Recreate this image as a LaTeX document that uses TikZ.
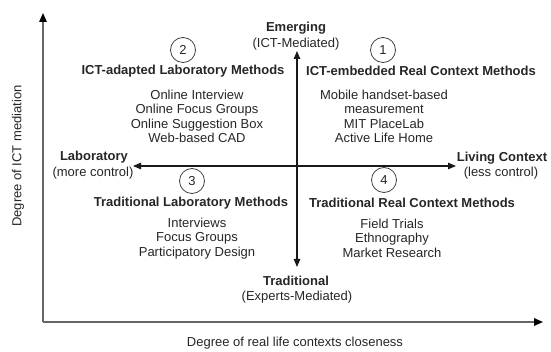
\documentclass[tikz,border=0pt]{standalone}
\usepackage{fontspec}
\setmainfont{Liberation Sans}
\usetikzlibrary{arrows.meta}
\begin{document}
\begin{tikzpicture}[x=1pt,y=-1pt,
  every node/.style={inner sep=0pt, text=black!85, font=\fontsize{13}{14.5}\selectfont},
  head/.style={font=\fontsize{13}{14.5}\selectfont\bfseries},
  items/.style={align=center},
  numcircle/.style={draw=black!75, line width=0.8pt, circle, minimum size=25pt},
  axis/.style={draw=black!60, line width=1.5pt, -{Triangle[length=9pt,width=7.5pt,color=black]}},
  cross/.style={draw=black!90, line width=1.1pt, {Triangle[length=8pt,width=6.5pt]}-{Triangle[length=8pt,width=6.5pt]}}]
\useasboundingbox (0,0) rectangle (551,352);

% outer axes
\coordinate (origin) at (43,322);
\coordinate (ytop) at (43,13);
\coordinate (xend) at (543,322);
\draw[axis] (origin) -- (ytop);
\draw[axis] (origin) -- (xend);
\node[rotate=90] (ylabel) at (18,156) {Degree of ICT mediation};
\node (xlabel) at (295,343) {Degree of real life contexts closeness};

% central cross
\node[head] (emerging) at (296,28) {Emerging};
\node (emergingsub) at (296,44) {(ICT-Mediated)};
\node[head] (traditional) at (296,281) {Traditional};
\node (traditionalsub) at (297,297) {(Experts-Mediated)};
\node[head] (lab) at (94,157) {Laboratory};
\node (labsub) at (93,173) {(more control)};
\node[head] (living) at (502,158) {Living Context};
\node (livingsub) at (501,173) {(less control)};
\coordinate (vtop) at (297,51);
\coordinate (vbot) at (297,267);
\coordinate (hleft) at (133,166);
\coordinate (hright) at (456,166);
\draw[cross] (vtop) -- (vbot);
\draw[cross] (hleft) -- (hright);

% quadrant 2
\node[numcircle] (c2) at (183,50) {2};
\node[head] (q2title) at (183,71) {ICT-adapted Laboratory Methods};
\node[items] (q2items) at (197,116.5) {Online Interview\\Online Focus Groups\\Online Suggestion Box\\Web-based CAD};

% quadrant 1
\node[numcircle] (c1) at (383,50) {1};
\node[head] (q1title) at (421,71) {ICT-embedded Real Context Methods};
\node[items] (q1items) at (384,116.5) {Mobile handset-based\\measurement\\MIT PlaceLab\\Active Life Home};

% quadrant 3
\node[numcircle] (c3) at (192,181) {3};
\node[head] (q3title) at (191,203) {Traditional Laboratory Methods};
\node[items] (q3items) at (197,238.5) {Interviews\\Focus Groups\\Participatory Design};

% quadrant 4
\node[numcircle] (c4) at (384,180) {4};
\node[head] (q4title) at (412,203) {Traditional Real Context Methods};
\node[items] (q4items) at (392,238) {Field Trials\\Ethnography\\Market Research};
\end{tikzpicture}
\end{document}
